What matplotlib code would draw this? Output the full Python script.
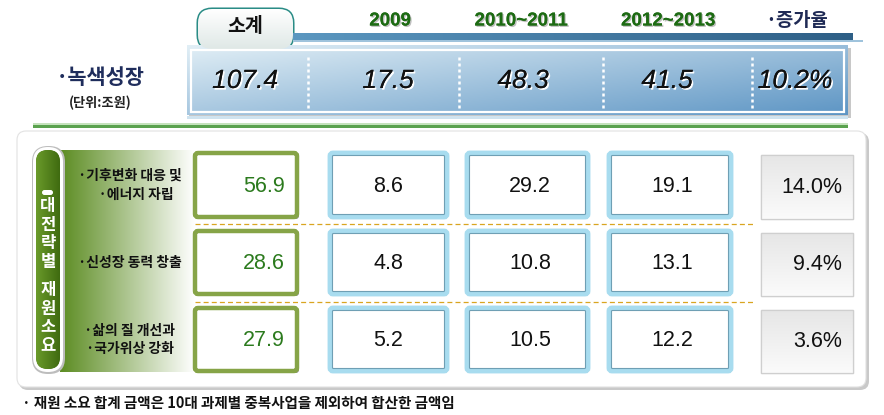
import numpy as np
import matplotlib
matplotlib.use("Agg")
import matplotlib.pyplot as plt
from matplotlib.patches import FancyBboxPatch, Rectangle
from matplotlib.colors import to_rgb
import matplotlib.patheffects as pe

# ---------------- data ----------------
header_cols = ['2009', '2010~2011', '2012~2013']
subtotal_label = '소계'
growth_label = '·증가율'
total_label = '·녹색성장'
unit_label = '(단위:조원)'
total_subtotal = 107.4
total_periods = [17.5, 48.3, 41.5]
total_growth = 10.2
side_title = '대전략별 재원소요'
categories = ['·기후변화 대응 및\n    ·에너지 자립', '·신성장 동력 창출', '·삶의 질 개선과\n·국가위상 강화']
subtotals = [56.9, 28.6, 27.9]
period_values = [[8.6, 4.8, 5.2], [29.2, 10.8, 10.5], [19.1, 13.1, 12.2]]
growth = [14.0, 9.4, 3.6]
footnote = '· 재원 소요 합계 금액은 10대 과제별 중복사업을 제외하여 합산한 금액임'

KR = ['Noto Sans CJK KR', 'DejaVu Sans']
NUM = ['Liberation Sans', 'DejaVu Sans']
HW = 'heavy'

fig = plt.figure(figsize=(8.84, 4.15), dpi=100)
ax = fig.add_axes([0, 0, 1, 1])
ax.set_xlim(0, 884)
ax.set_ylim(415, 0)
ax.axis('off')


def grad(x0, y0, x1, y1, c0, c1, direction='h', clip=None, z=1):
    n = 256
    t = np.linspace(0, 1, n)
    a, b = np.array(to_rgb(c0)), np.array(to_rgb(c1))
    if direction == 'h':
        arr = a[None, None, :] * (1 - t)[None, :, None] + b[None, None, :] * t[None, :, None]
    elif direction == 'v':
        arr = a[None, None, :] * (1 - t)[:, None, None] + b[None, None, :] * t[:, None, None]
    else:  # diagonal
        X, Y = np.meshgrid(t, t)
        s = (0.55 * X + 0.45 * Y)[..., None]
        arr = a * (1 - s) + b * s
    im = ax.imshow(arr, extent=(x0, x1, y1, y0), origin='upper', aspect='auto',
                   zorder=z, interpolation='bilinear')
    if clip is not None:
        im.set_clip_path(clip)
    return im


def rbox(x0, y0, x1, y1, r, fc, ec='none', lw=0, z=1, alpha=1):
    p = FancyBboxPatch((x0, y0), x1 - x0, y1 - y0,
                       boxstyle=f"round,pad=0,rounding_size={r}",
                       fc=fc, ec=ec, lw=lw, zorder=z, alpha=alpha)
    ax.add_patch(p)
    return p


# ---------------- top section ----------------
tab = FancyBboxPatch((198, 9), 95, 40, boxstyle="round,pad=0,rounding_size=14",
                     fc='#eef3f2', ec='#2a8c86', lw=2.2, zorder=2)
ax.add_patch(tab)
grad(198, 9, 293, 49, '#ffffff', '#dfe8e6', 'v', clip=tab, z=2.5)
ax.text(245, 27, subtotal_label, ha='center', va='center', fontsize=14,
        fontweight=HW, family=KR, color='#111111', zorder=5)

band = Rectangle((293, 33), 560, 7, fc='#4a7fa8', ec='none', zorder=2)
ax.add_patch(band)
grad(293, 33, 853, 40, '#5b97c0', '#2e5f86', 'h', clip=band, z=2.2)
ax.add_patch(Rectangle((293, 40), 570, 2, fc='#9fc3dc', ec='none', zorder=2))

head_x = [390, 521, 668]
for x, lab in zip(head_x, header_cols):
    ax.text(x, 21, lab, ha='center', va='center', fontsize=13.5, fontweight='bold',
            family=NUM, color='#1d6b13', zorder=5,
            path_effects=[pe.withSimplePatchShadow(offset=(1, -1), shadow_rgbFace='#b0b0b0', alpha=0.8), pe.Normal()])
ax.text(797, 21, growth_label, ha='center', va='center', fontsize=13.5, fontweight=HW,
        family=KR, color='#1f2a55', zorder=5)

ax.add_patch(Rectangle((189, 48), 662, 70, fc='#c8c8c8', ec='none', zorder=1.5))
big = Rectangle((187, 45), 661, 70, fc='#a9cbe2', ec='none', zorder=2)
ax.add_patch(big)
grad(187, 45, 848, 115, '#e2eff6', '#5d95c4', 'd', clip=big, z=2.2)
ax.add_patch(Rectangle((191, 50), 653, 62, fc='none', ec='white', lw=1.6, zorder=3))
ax.add_patch(Rectangle((187, 116), 661, 3, fc='#cfe3ef', ec='none', zorder=2))

sep_x = [308, 459, 603, 752]
for sx in sep_x:
    ax.plot([sx, sx], [57, 108], color='white', lw=1.8, ls=(0, (1.2, 1.2)), zorder=4)

top_vals = [f'{total_subtotal}'] + [f'{v}' for v in total_periods] + [f'{total_growth}%']
top_x = [245, 388, 523, 667, 795]
for x, s in zip(top_x, top_vals):
    ax.text(x, 81, s, ha='center', va='center', fontsize=19, style='italic',
            family=NUM, color='#111111', zorder=5,
            path_effects=[pe.withSimplePatchShadow(offset=(1.2, -1.2), shadow_rgbFace='white', alpha=1), pe.Normal()])

ax.text(100, 77, total_label, ha='center', va='center', fontsize=15, fontweight=HW,
        family=KR, color='#1f2d5c', zorder=5)
ax.text(100, 103, unit_label, ha='center', va='center', fontsize=9.5, fontweight=HW,
        family=KR, color='#222222', zorder=5)

ax.add_patch(Rectangle((33, 123), 815, 2, fc='#c5e3bd', ec='none', zorder=2))
ax.add_patch(Rectangle((33, 125), 815, 3, fc='#5aa24e', ec='none', zorder=2))

# ---------------- lower panel ----------------
rbox(19, 133, 869, 390, 9, '#c9c9c9', z=1)
rbox(17, 131, 866, 387, 9, 'white', ec='#e2e2e2', lw=0.8, z=1.2)

gpanel = Rectangle((60, 150), 135, 222, fc='white', ec='none', zorder=1.5)
ax.add_patch(gpanel)
grad(60, 150, 195, 372, '#5c8c22', '#ffffff', 'h', clip=gpanel, z=1.6)

rbox(32, 146, 65, 374, 16, '#bdbdbd', z=2)
rbox(33, 147, 63, 372, 15, 'white', z=2.1)
pill = rbox(36, 150, 60, 369, 12, '#4d7a18', z=2.2)
grad(36, 150, 60, 369, '#6a9a2a', '#3f6b10', 'h', clip=pill, z=2.3)
ax.add_patch(FancyBboxPatch((42, 190), 11, 5, boxstyle="round,pad=0,rounding_size=2.5",
                            fc='white', ec='none', zorder=3))
chars = [c for c in side_title if c != ' ']
char_y = [206, 224.5, 243, 261.5, 290, 308.5, 327, 345.5]
for c, y in zip(chars, char_y):
    ax.text(48, y, c, ha='center', va='center', fontsize=12, fontweight=HW,
            family=KR, color='white', zorder=4)

row_y = [186, 264, 341]
row_top = [153, 231, 308]
row_bot = [217, 294, 371]

for i, cat in enumerate(categories):
    ax.text(130, row_y[i] - 1, cat, ha='center', va='center', fontsize=10, fontweight=HW,
            style='italic', family=KR, color='#111111', zorder=5, linespacing=1.45)

for y in [224, 302]:
    ax.plot([195, 755], [y, y], color='#d9a520', lw=0.9, ls=(0, (4, 2.5)), zorder=2)

for i, v in enumerate(subtotals):
    rbox(197, row_top[i] + 2, 299, row_bot[i] + 2, 3, '#9a9a9a', z=2)
    rbox(195, row_top[i], 297, row_bot[i], 3, 'white', ec='#86a447', lw=3.2, z=2.5)
    ax.text(285, (row_top[i] + row_bot[i]) / 2 + 1, f'{v}', ha='right', va='center',
            fontsize=15.5, family=NUM, color='#2b7a1d', zorder=5)

col_x0 = [330, 467, 609]
col_x1 = [447, 588, 731]
col_cx = [388, 530, 672]
for j in range(3):
    for i in range(3):
        rbox(col_x0[j] + 1, row_top[i] + 2, col_x1[j] + 1, row_bot[i] + 2, 3, '#b9c9d2', z=2)
        rbox(col_x0[j], row_top[i], col_x1[j], row_bot[i], 3, 'white', ec='#a8dcef', lw=3.5, z=2.5)
        rbox(col_x0[j] + 2.5, row_top[i] + 2.5, col_x1[j] - 2.5, row_bot[i] - 2.5, 1, 'none',
             ec='#6f9fb4', lw=0.8, z=2.6)
        ax.text(col_cx[j], (row_top[i] + row_bot[i]) / 2 + 1, f'{period_values[j][i]}',
                ha='center', va='center', fontsize=15.5, family=NUM, color='#111111', zorder=5)

for i, g in enumerate(growth):
    gb = Rectangle((761, row_top[i] + 2), 92, row_bot[i] - row_top[i], fc='#f2f2f2',
                   ec='#cfcfcf', lw=0.9, zorder=2.5)
    ax.add_patch(gb)
    grad(761, row_top[i] + 2, 853, row_bot[i] + 2, '#e6e6e6', '#fbfbfb', 'v', clip=gb, z=2.6)
    ax.add_patch(Rectangle((761, row_top[i] + 2), 92, row_bot[i] - row_top[i], fc='none',
                           ec='#cfcfcf', lw=0.9, zorder=2.7))
    ax.text(842, (row_top[i] + row_bot[i]) / 2 + 2, f'{g:.1f}%', ha='right', va='center',
            fontsize=15.5, family=NUM, color='#111111', zorder=5)

ax.text(22, 403, footnote, ha='left', va='center', fontsize=10.5, fontweight=HW,
        family=KR, color='#111111', zorder=5)

fig.savefig('out.png', dpi=100)
